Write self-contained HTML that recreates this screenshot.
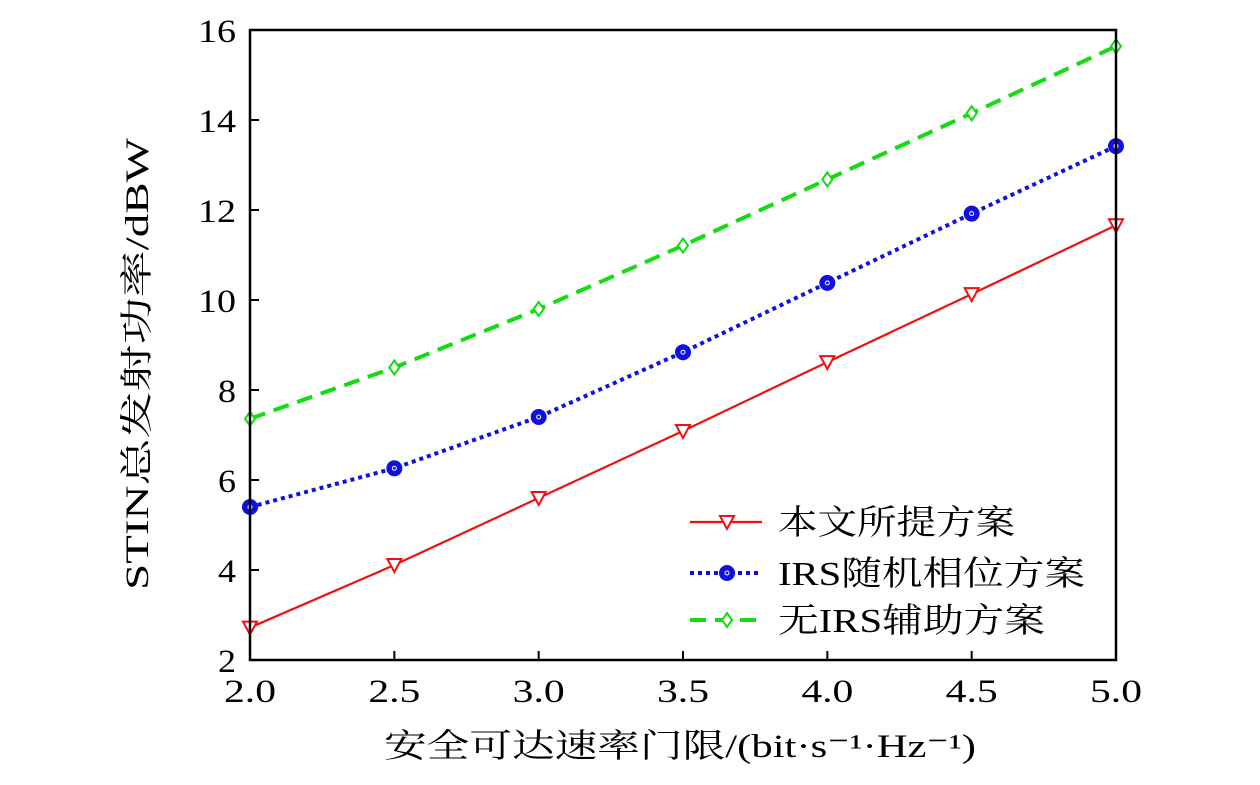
<!DOCTYPE html>
<html><head><meta charset="utf-8"><style>
body{margin:0;background:#fff}
svg text{font-family:"Liberation Serif","Noto Serif CJK SC",serif;fill:#000}
</style></head><body>
<svg id="c" width="1260" height="780" xmlns="http://www.w3.org/2000/svg"></svg>
<script>
const xCats=[2.0,2.5,3.0,3.5,4.0,4.5,5.0];
const xTicks=["2.0","2.5","3.0","3.5","4.0","4.5","5.0"];
const yTicks=[2,4,6,8,10,12,14,16];
const redVals=[2.72,4.11,5.6,7.09,8.62,10.13,11.66];
const blueVals=[5.4,6.26,7.4,8.84,10.38,11.92,13.42];
const greenVals=[7.36,8.5,9.8,11.21,12.68,14.15,15.64];
const names=["本文所提方案","IRS随机相位方案","无IRS辅助方案"];
const L=250,R=1116,T=30,B=660;
const X=v=>L+(v-2)/3*(R-L), Y=v=>B-(v-2)/14*(B-T);
const svg=document.getElementById('c');const NS="http://www.w3.org/2000/svg";
function el(t,a,p){const e=document.createElementNS(NS,t);for(const k in a)e.setAttribute(k,a[k]);(p||svg).appendChild(e);return e;}
function tx(x,y,s,size,anchor,name,len){const e=el('text',{x:x,y:y,'font-size':size,'text-anchor':anchor});e.textContent=s;
if(len){e.setAttribute('textLength',len);e.setAttribute('lengthAdjust','spacingAndGlyphs');}

return e;}
xCats.forEach((v,i)=>{const x=X(v);
const t=el('line',{x1:x,x2:x,y1:B,y2:B-9,stroke:'#000','stroke-width':2});


tx(x,B+42,xTicks[i],33,'middle','x-tick-label',52);});
yTicks.forEach(v=>{const y=Y(v);
const t=el('line',{x1:L,x2:L+9,y1:y,y2:y,stroke:'#000','stroke-width':2});


tx(L-14,y+12,String(v),33,'end','y-tick-label',v>=10?38:18);});
function series(vals,color,dash,width,marker,name){
const g=el('g',{});


el('polyline',{points:vals.map((v,i)=>X(xCats[i])+','+Y(v)).join(' '),fill:'none',stroke:color,'stroke-width':width,'stroke-dasharray':dash},g);
vals.forEach((v,i)=>{const m=drawMarker(X(xCats[i]),Y(v),marker,color,g);

});}
function drawMarker(x,y,m,c,g){
if(m==='tri')return el('polygon',{points:`${x-7},${y-6} ${x+7},${y-6} ${x},${y+7}`,fill:'#fff',stroke:c,'stroke-width':2},g);
if(m==='circ'){const gg=el('g',{},g);el('circle',{cx:x,cy:y,r:8,fill:c},gg);el('circle',{cx:x,cy:y,r:2,fill:'none',stroke:'#fff','stroke-width':1},gg);return gg;}
return el('polygon',{points:`${x},${y-7} ${x+5},${y} ${x},${y+7} ${x-5},${y}`,fill:'#fff',stroke:c,'stroke-width':2},g);}
series(greenVals,'#11dd11','16,9',4,'dia','series-no-irs');
series(blueVals,'#1010e0','4,4',4,'circ','series-irs-random');
series(redVals,'#ee1111','',2.2,'tri','series-proposed');
const ax=el('rect',{x:L,y:T,width:R-L,height:B-T,fill:'none',stroke:'#000','stroke-width':2.5});


const lg=el('g',{});


const lc=['#ee1111','#1010e0','#11dd11'],ld=['','4,4','16,9'],lw=[2.2,4,4],lm=['tri','circ','dia'],ll=[237,307,267];
[522,573,620].forEach((y,i)=>{el('line',{x1:690,x2:762,y1:y,y2:y,stroke:lc[i],'stroke-width':lw[i],'stroke-dasharray':ld[i]},lg);
drawMarker(727,y,lm[i],lc[i],lg);
const t=tx(778,y+12,names[i],34,'start','legend-label',ll[i]);lg.appendChild(t);});
tx(680,757,"安全可达速率门限/(bit·s⁻¹·Hz⁻¹)",33,'middle','x-axis-title',592);
const yt=tx(0,0,"STIN总发射功率/dBW",33,'middle','y-axis-title',452);
yt.setAttribute('transform',`translate(148,364) rotate(-90)`);
</script>
</body></html>
